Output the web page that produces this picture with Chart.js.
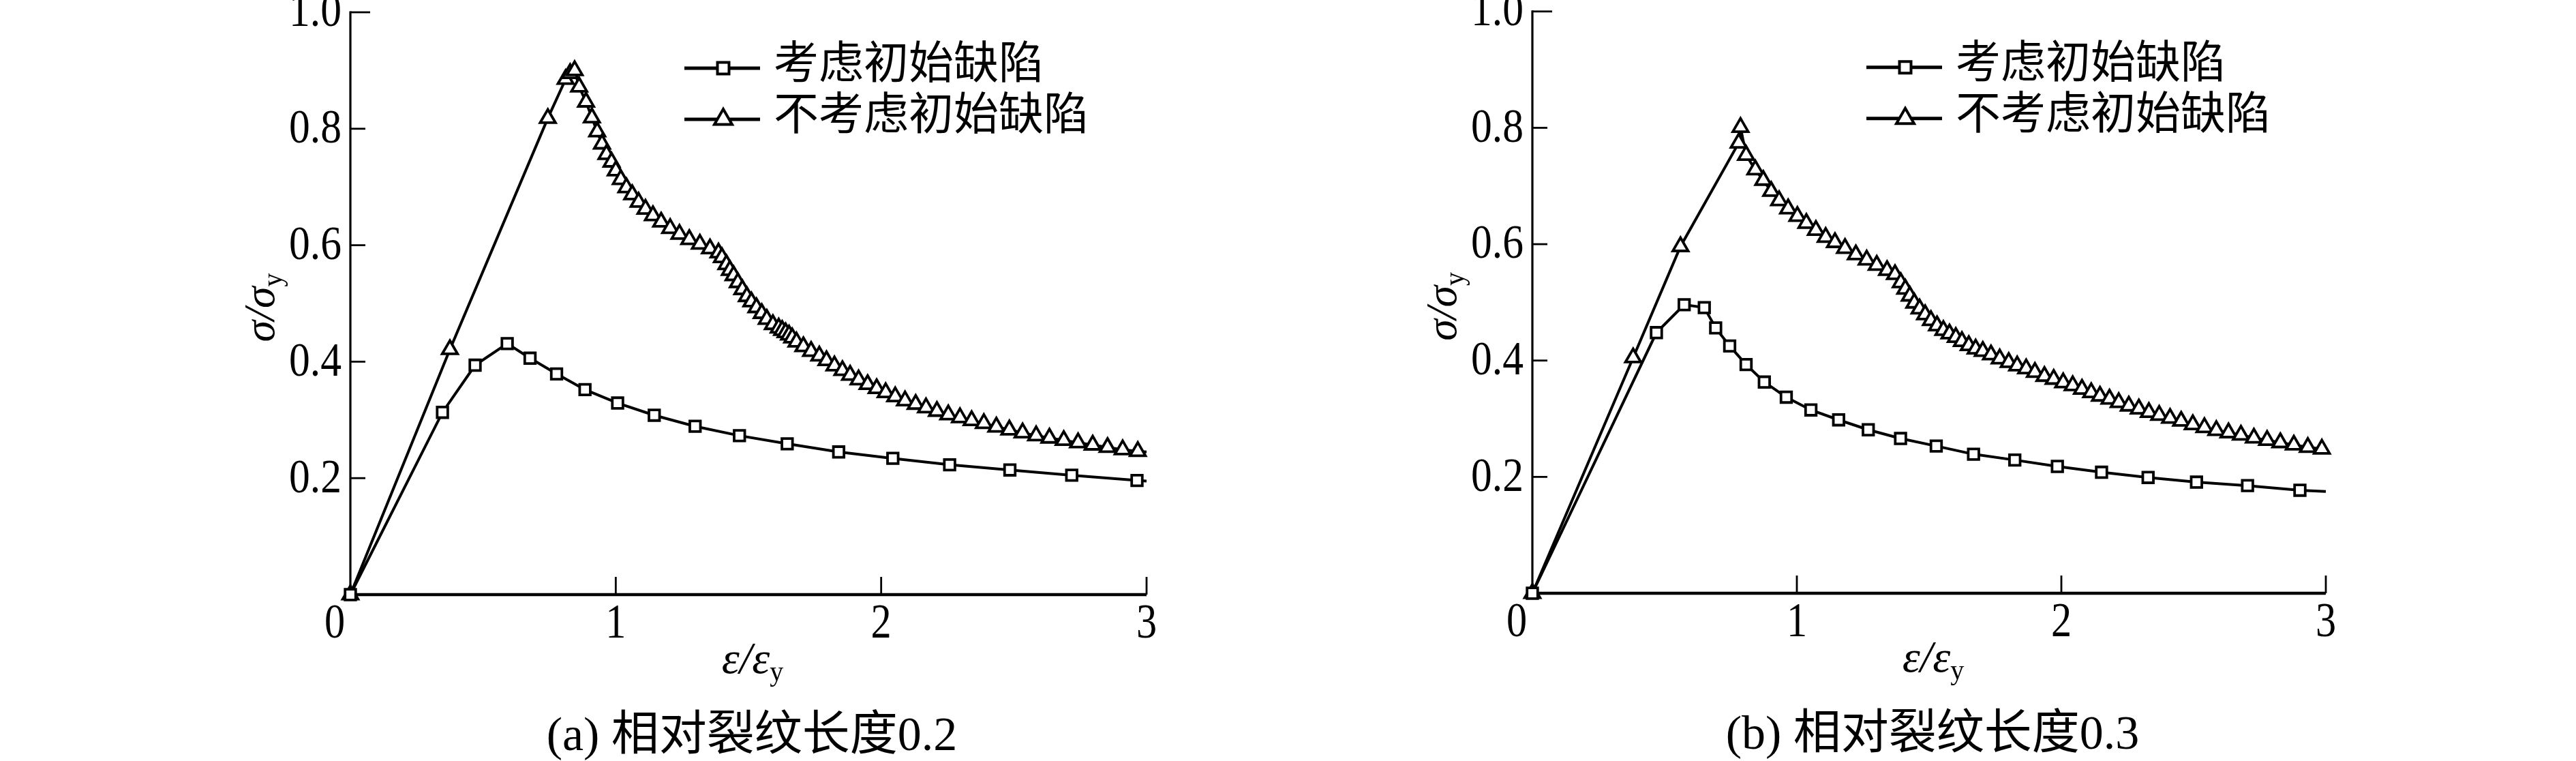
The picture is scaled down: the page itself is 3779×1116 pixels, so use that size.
<!DOCTYPE html>
<html>
<head>
<meta charset="utf-8">
<script src="https://cdn.jsdelivr.net/npm/chart.js@4.4.0/dist/chart.umd.min.js"></script>
<style>
  body { margin: 0; background: #fff; width: 3779px; height: 1116px; overflow: hidden; position: relative; }
  canvas { position: absolute; top: 0; }
</style>
</head>
<body>
<canvas id="chartA" width="1800" height="1116" style="left:0px"></canvas>
<canvas id="chartB" width="1889" height="1116" style="left:1890px"></canvas>
<script>
'use strict';
// tick labels
const xTicks = [0, 1, 2, 3];
const yTicks = [0.2, 0.4, 0.6, 0.8, 1.0];
const seriesNames = ['考虑初始缺陷', '不考虑初始缺陷'];
const captions = ['(a) 相对裂纹长度0.2', '(b) 相对裂纹长度0.3'];

// (a) relative crack length 0.2
const aSquareX = [0, 0.347, 0.470, 0.591, 0.677, 0.777, 0.884, 1.007, 1.145, 1.299, 1.466, 1.646, 1.840, 2.044, 2.258, 2.485, 2.718, 2.964, 3.0];
const aSquareY = [0, 0.313, 0.394, 0.431, 0.406, 0.379, 0.352, 0.329, 0.308, 0.289, 0.273, 0.259, 0.245, 0.234, 0.223, 0.214, 0.205, 0.196, 0.195];
const aTriangleX = [0, 0.375, 0.744, 0.811, 0.828, 0.845, 0.862, 0.888, 0.910, 0.930, 0.948, 0.965, 0.984,
  1.000, 1.019, 1.040, 1.062, 1.086, 1.112, 1.140, 1.171, 1.205, 1.240, 1.277, 1.317, 1.355, 1.387, 1.400, 1.417,
  1.430, 1.444, 1.460, 1.477, 1.494, 1.511, 1.530, 1.550, 1.569, 1.592, 1.614, 1.627, 1.640, 1.653, 1.665, 1.681,
  1.707, 1.736, 1.767, 1.794, 1.824, 1.854, 1.883, 1.915, 1.949, 1.983, 2.017, 2.053, 2.090, 2.130, 2.169, 2.210,
  2.253, 2.297, 2.341, 2.387, 2.434, 2.483, 2.533, 2.584, 2.634, 2.688, 2.742, 2.797, 2.853, 2.910, 2.967, 3.0];
const aTriangleY = [0, 0.421, 0.818, 0.885, 0.895, 0.900, 0.872, 0.846, 0.819, 0.795, 0.774, 0.756, 0.743,
  0.728, 0.713, 0.699, 0.687, 0.674, 0.662, 0.651, 0.640, 0.629, 0.619, 0.610, 0.602, 0.594, 0.587, 0.579, 0.567,
  0.557, 0.548, 0.536, 0.524, 0.512, 0.503, 0.493, 0.483, 0.473, 0.464, 0.458, 0.454, 0.450, 0.446, 0.441, 0.434,
  0.426, 0.418, 0.410, 0.402, 0.393, 0.385, 0.377, 0.369, 0.361, 0.354, 0.347, 0.340, 0.333, 0.327, 0.321, 0.315,
  0.309, 0.304, 0.299, 0.294, 0.288, 0.283, 0.278, 0.273, 0.269, 0.265, 0.261, 0.257, 0.253, 0.249, 0.246, 0.245];

// (b) relative crack length 0.3
const bSquareX = [0, 0.469, 0.574, 0.650, 0.693, 0.746, 0.808, 0.877, 0.960, 1.053, 1.158, 1.270, 1.392, 1.527, 1.668, 1.824, 1.985, 2.152, 2.328, 2.511, 2.704, 2.902, 3.0];
const bSquareY = [0, 0.448, 0.496, 0.491, 0.456, 0.425, 0.393, 0.363, 0.337, 0.315, 0.298, 0.281, 0.266, 0.253, 0.239, 0.229, 0.218, 0.208, 0.199, 0.191, 0.185, 0.177, 0.175];
const bTriangleX = [0, 0.381, 0.560, 0.780, 0.787, 0.808, 0.843, 0.873, 0.903, 0.933, 0.967, 1.002, 1.036, 1.072,
  1.109, 1.144, 1.182, 1.223, 1.264, 1.302, 1.341, 1.371, 1.393, 1.410, 1.427, 1.444, 1.464, 1.485, 1.507, 1.530,
  1.554, 1.577, 1.601, 1.624, 1.650, 1.676, 1.703, 1.734, 1.767, 1.801, 1.833, 1.867, 1.900, 1.936, 1.971, 2.007,
  2.043, 2.078, 2.113, 2.146, 2.182, 2.217, 2.255, 2.293, 2.331, 2.370, 2.411, 2.453, 2.497, 2.541, 2.586, 2.632,
  2.679, 2.728, 2.778, 2.828, 2.879, 2.932, 2.985, 3.0];
const bTriangleY = [0, 0.405, 0.596, 0.774, 0.801, 0.753, 0.728, 0.710, 0.691, 0.675, 0.661, 0.648, 0.636, 0.624,
  0.612, 0.603, 0.593, 0.582, 0.573, 0.564, 0.555, 0.548, 0.534, 0.523, 0.511, 0.499, 0.489, 0.479, 0.469, 0.460,
  0.452, 0.446, 0.440, 0.433, 0.426, 0.420, 0.416, 0.410, 0.403, 0.397, 0.391, 0.386, 0.380, 0.373, 0.368, 0.362,
  0.357, 0.351, 0.345, 0.339, 0.334, 0.328, 0.322, 0.317, 0.311, 0.306, 0.301, 0.296, 0.290, 0.285, 0.280, 0.276,
  0.272, 0.267, 0.263, 0.259, 0.255, 0.251, 0.248, 0.247];

const SERIF = "'Liberation Serif', 'Times New Roman', serif";
const CJK = "'Liberation Serif', 'Noto Sans CJK SC', sans-serif";

function toPoints(xs, ys) {
  return xs.map((x, i) => ({ x: x, y: ys[i] }));
}

function text(ctx, str, x, y, font, align, baseline, sx) {
  ctx.save();
  ctx.font = font;
  ctx.textAlign = align;
  ctx.textBaseline = baseline;
  ctx.translate(x, y);
  ctx.scale(sx || 1, 1);
  ctx.fillText(str, 0, 0);
  ctx.restore();
}

function markerPath(ctx, style, x, y, r) {
  ctx.beginPath();
  if (style === 'rect') {
    const s = Math.SQRT1_2 * r;
    ctx.rect(x - s, y - s, 2 * s, 2 * s);
  } else {
    ctx.moveTo(x, y - r);
    ctx.lineTo(x + r * Math.sin(2 * Math.PI / 3), y + r / 2);
    ctx.lineTo(x - r * Math.sin(2 * Math.PI / 3), y + r / 2);
    ctx.closePath();
  }
}

// axes, ticks and labels drawn from the chart's own scales
const axisPlugin = {
  id: 'axisPlugin',
  beforeDatasetsDraw(chart) {
    const ctx = chart.ctx;
    const a = chart.chartArea;
    const xs = chart.scales.x;
    const ys = chart.scales.y;
    ctx.save();
    ctx.strokeStyle = '#000';
    ctx.fillStyle = '#000';
    ctx.lineCap = 'butt';
    // axis lines
    ctx.lineWidth = 3.2;
    ctx.beginPath();
    ctx.moveTo(a.left, a.top - 1.5);
    ctx.lineTo(a.left, a.bottom);
    ctx.stroke();
    ctx.lineWidth = 4.5;
    ctx.beginPath();
    ctx.moveTo(a.left - 1.5, a.bottom);
    ctx.lineTo(a.right, a.bottom);
    ctx.stroke();
    // y ticks
    ctx.lineWidth = 2.8;
    yTicks.forEach(v => {
      const py = ys.getPixelForValue(v);
      const len = v === 1.0 ? 29 : 22;
      ctx.beginPath();
      ctx.moveTo(a.left, py);
      ctx.lineTo(a.left + len, py);
      ctx.stroke();
      text(ctx, v.toFixed(1), a.left - 13, py + 2, '70px ' + SERIF, 'right', 'middle', 0.88);
    });
    // x ticks
    xTicks.forEach(v => {
      const px = xs.getPixelForValue(v);
      if (v !== 0) {
        ctx.beginPath();
        ctx.moveTo(px, a.bottom);
        ctx.lineTo(px, a.bottom - 26);
        ctx.stroke();
      }
      text(ctx, String(v), v === 0 ? px - 23 : px, a.bottom + 63, '71px ' + SERIF, 'center', 'alphabetic', 0.85);
    });
    ctx.restore();
  },
  afterDraw(chart) {
    const ctx = chart.ctx;
    const a = chart.chartArea;
    const opts = chart.options.plugins.axisPlugin;
    const midX = (a.left + a.right) / 2;
    const midY = (a.top + a.bottom) / 2;
    ctx.save();
    ctx.fillStyle = '#000';
    ctx.strokeStyle = '#000';

    // y title  σ/σy
    ctx.save();
    ctx.translate(a.left - 112, midY + 6);
    ctx.rotate(-Math.PI / 2);
    ctx.font = 'italic 64px ' + SERIF;
    const w1 = ctx.measureText('σ/σ').width;
    ctx.font = '40px ' + SERIF;
    const w2 = ctx.measureText('y').width;
    const y0 = -(w1 + w2) / 2;
    ctx.textBaseline = 'alphabetic';
    ctx.font = 'italic 64px ' + SERIF;
    ctx.fillText('σ/σ', y0, 0);
    ctx.font = '40px ' + SERIF;
    ctx.fillText('y', y0 + w1, 11);
    ctx.restore();

    // x title  ε/εy
    ctx.save();
    ctx.font = 'italic 66px ' + SERIF;
    const e1 = ctx.measureText('ε/ε').width;
    ctx.font = '40px ' + SERIF;
    const e2 = ctx.measureText('y').width;
    const x0 = midX + 6 - (e1 + e2) / 2;
    ctx.textBaseline = 'alphabetic';
    ctx.font = 'italic 66px ' + SERIF;
    ctx.fillText('ε/ε', x0, a.bottom + 115);
    ctx.font = '40px ' + SERIF;
    ctx.fillText('y', x0 + e1, a.bottom + 126);
    ctx.restore();

    // caption
    text(ctx, opts.caption, midX + 5, a.bottom + 228, '70px ' + CJK, 'center', 'alphabetic', 1);

    // legend
    const rows = [
      { name: seriesNames[0], style: 'rect', r: 12, y: a.top + 82 },
      { name: seriesNames[1], style: 'triangle', r: 15, y: a.top + 157 }
    ];
    rows.forEach(row => {
      ctx.lineWidth = 5;
      ctx.beginPath();
      ctx.moveTo(a.left + 490, row.y);
      ctx.lineTo(a.left + 601, row.y);
      ctx.stroke();
      markerPath(ctx, row.style, a.left + 547, row.y, row.r);
      ctx.fillStyle = '#fff';
      ctx.fill();
      ctx.lineWidth = 4;
      ctx.stroke();
      ctx.fillStyle = '#000';
      text(ctx, row.name, a.left + 621, row.y - 2, '66px ' + CJK, 'left', 'middle', 1);
    });
    ctx.restore();
  }
};

function makeChart(id, sqX, sqY, trX, trY, caption, pad) {
  const hideLast = (n, r) => c => (c.dataIndex === n - 1 ? 0 : r);
  return new Chart(document.getElementById(id), {
    type: 'line',
    data: {
      datasets: [
        {
          label: seriesNames[0],
          data: toPoints(sqX, sqY),
          borderColor: '#000',
          borderWidth: 4,
          pointStyle: 'rect',
          pointRadius: hideLast(sqX.length, 11),
          pointBackgroundColor: '#fff',
          pointBorderColor: '#000',
          pointBorderWidth: 3.8,
          tension: 0,
          fill: false,
          clip: false
        },
        {
          label: seriesNames[1],
          data: toPoints(trX, trY),
          borderColor: '#000',
          borderWidth: 4,
          pointStyle: 'triangle',
          pointRadius: hideLast(trX.length, 13),
          pointBackgroundColor: '#fff',
          pointBorderColor: '#000',
          pointBorderWidth: 3.8,
          tension: 0,
          fill: false,
          clip: false
        }
      ]
    },
    options: {
      responsive: false,
      animation: false,
      devicePixelRatio: 1,
      layout: { padding: pad },
      scales: {
        x: { type: 'linear', min: 0, max: 3, display: false },
        y: { type: 'linear', min: 0, max: 1, display: false }
      },
      plugins: {
        legend: { display: false },
        tooltip: { enabled: false },
        axisPlugin: { caption: caption }
      }
    },
    plugins: [axisPlugin]
  });
}

makeChart('chartA', aSquareX, aSquareY, aTriangleX, aTriangleY, captions[0],
  { left: 514, top: 18, right: 1800 - 1682, bottom: 1116 - 872 });
makeChart('chartB', bSquareX, bSquareY, bTriangleX, bTriangleY, captions[1],
  { left: 2248 - 1890, top: 16, right: 1889 - (3412 - 1890), bottom: 1116 - 870 });
</script>
</body>
</html>
